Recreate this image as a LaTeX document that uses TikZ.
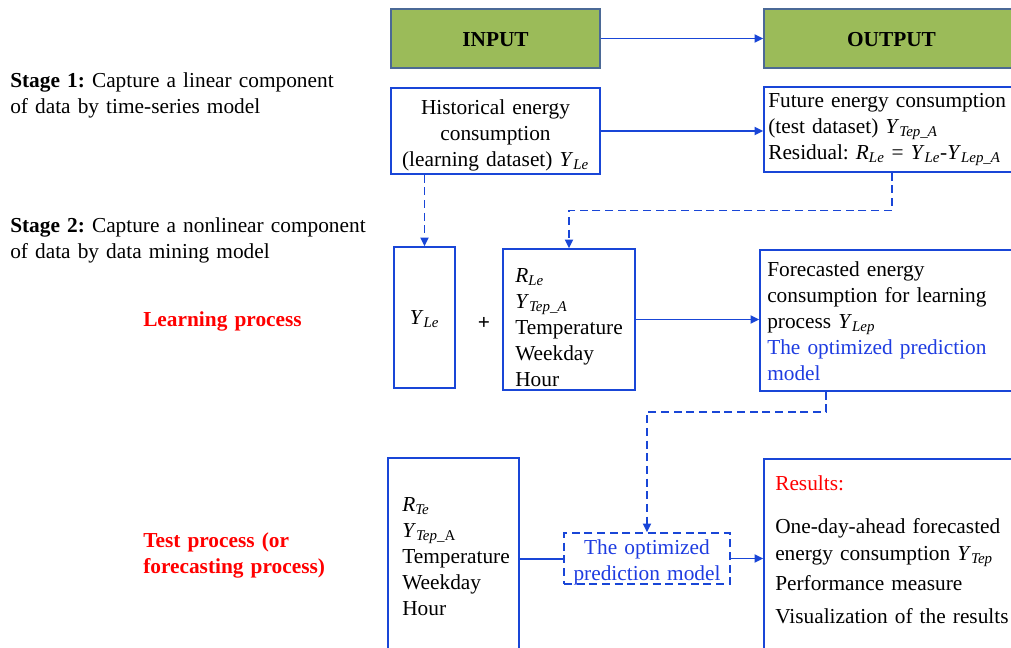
\documentclass[tikz,border=0pt]{standalone}
\usepackage{fontspec}
\setmainfont{Liberation Serif}
\usetikzlibrary{arrows.meta,fit,calc}
\definecolor{lineblue}{RGB}{25,70,215}
\definecolor{txtblue}{RGB}{30,60,225}
\definecolor{headgreen}{RGB}{155,187,89}
\definecolor{headedge}{RGB}{75,105,150}
% italic variable with italic subscript
\newcommand\vsub[2]{\textit{#1}\textsubscript{\textit{#2}}}
\frenchspacing

\begin{document}
\begin{tikzpicture}[x=0.75pt,y=-0.75pt,
  font=\fontsize{16}{19.5}\selectfont,
  boxline/.style={draw=lineblue, line width=1.2pt, inner sep=0pt},
  headbox/.style={draw=headedge, fill=headgreen, line width=1.2pt, inner sep=0pt},
  dashbox/.style={boxline, dash pattern=on 6pt off 3.5pt},
  txt/.style={inner sep=0pt, anchor=base west, align=left, text width=#1},
  txt/.default=200pt,
  ctxt/.style={inner sep=0pt, anchor=base, align=center, text width=#1},
  ctxt/.default=160pt,
  conn/.style={draw=lineblue, line width=1.3pt, -{Triangle[length=6.5pt,width=6pt]}},
  plain/.style={draw=lineblue, line width=1.3pt},
  dconn/.style={conn, dash pattern=on 6pt off 3.5pt},
  redlabel/.style={txt=220pt, text=red, font=\fontsize{16}{19.5}\selectfont\bfseries}
]
\useasboundingbox (0,0) rectangle (1011,647);
\clip (0,0) rectangle (1011,647);

% header boxes
\node[headbox, fit={(391,9)(600,68)}] (in) {};
\node[headbox, fit={(764,9)(1020,68)}] (out) {};
\node[inner sep=0pt, anchor=base] (intxt) at (495.5,46) {\bfseries INPUT};
\node[inner sep=0pt, anchor=base] (outtxt) at (891.5,46) {\bfseries OUTPUT};

% stage 1
\node[boxline, fit={(391,88)(600,174)}] (hist) {};
\node[boxline, fit={(764,87)(1020,172)}] (fut) {};
\node[ctxt] (histtxt) at (495.5,114) {Historical energy\\consumption\\(learning dataset) \vsub{Y}{Le}};
\node[txt] (futtxt) at (768,107) {Future energy consumption\\(test dataset) \vsub{Y}{Tep\_A}\\Residual: \vsub{R}{Le} = \vsub{Y}{Le}-\vsub{Y}{Lep\_A}};

% stage 2: learning
\node[boxline, fit={(394,247)(455,388)}] (yle) {};
\node[boxline, fit={(503,249)(635,390)}] (rle) {};
\node[boxline, fit={(760,250)(1022,391)}] (fc) {};
\node[inner sep=0pt, anchor=base] (yletxt) at (424.5,324) {\vsub{Y}{Le}};
\node[inner sep=0pt, anchor=base] (plus) at (484,329) {\textbf{+}};
\node[txt] (rletxt) at (515,282) {\vsub{R}{Le}\\\vsub{Y}{Tep\_A}\\Temperature\\Weekday\\Hour};
\node[txt] (fctxt) at (767,276) {Forecasted energy\\consumption for learning\\process \vsub{Y}{Lep}\\\textcolor{txtblue}{The optimized prediction}\\\textcolor{txtblue}{model}};

% test process
\node[boxline, fit={(388,458)(519,660)}] (tst) {};
\node[dashbox, fit={(564,533)(730,584)}] (opt) {};
\node[boxline, fit={(764,459)(1020,660)}] (res) {};
\node[txt] (tsttxt) at (402,511) {\vsub{R}{Te}\\\textit{Y}\textsubscript{\textit{Tep\_}A}\\Temperature\\Weekday\\Hour};
\node[ctxt, text=txtblue] (opttxt) at (647,554) {The optimized\\prediction model};
\node[txt] (restxt) at (775,490) {\textcolor{red}{Results:}\\[12.75pt]One-day-ahead forecasted\\[0.75pt]energy consumption \vsub{Y}{Tep}\\[3pt]Performance measure\\[5.25pt]Visualization of the results};

% left-hand labels
\node[txt=320pt] (stage1) at (10,87) {\textbf{Stage 1:} Capture a linear component\\of data by time-series model};
\node[txt=320pt] (stage2) at (10,232) {\textbf{Stage 2:} Capture a nonlinear component\\of data by data mining model};
\node[redlabel] (learn) at (143,326) {Learning process};
\node[redlabel] (test) at (143,547) {Test process (or\\forecasting process)};

% connectors
\draw[conn] (in.east) -- (in.east -| out.west);
\draw[conn] (hist.east) -- (hist.east -| fut.west);
\draw[dconn] (hist.south -| yle.north) -- (yle.north);
\draw[dconn] (fut.south) |- ($(fut.south)!0.5!(rle.north)$) -| (rle.north);
\draw[conn] (rle.east) -- (rle.east -| fc.west);
\coordinate (fcb) at ($(fc.south west)+(67,0)$);
\draw[dconn] (fcb) -- ++(0,20) -| (opt.north);
\draw[plain] (tst.east) -- (tst.east -| opt.west);
\draw[conn] (opt.east) -- (opt.east -| res.west);
\end{tikzpicture}
\end{document}
